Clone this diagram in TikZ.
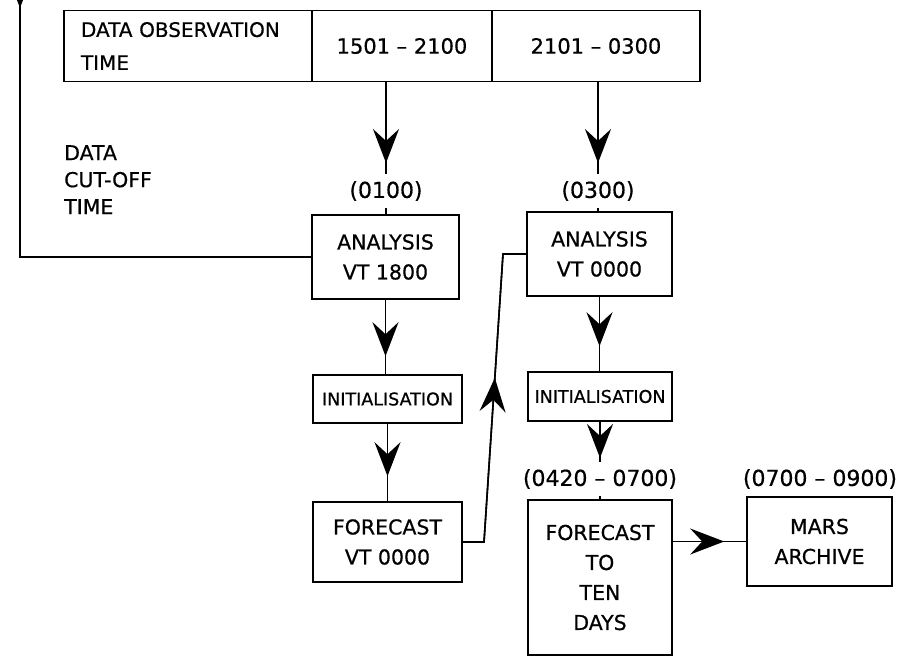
\documentclass[tikz,border=0pt]{standalone}
\usepackage{fontspec}
\setmainfont[FakeBold=0.6]{DejaVu Sans}
\usetikzlibrary{arrows.meta,decorations.markings}
\begin{document}
\begin{tikzpicture}[x=1pt,y=-1pt,
  every node/.style={font=\fontsize{20.5}{30}\selectfont},
  box/.style={draw, line width=1.6pt, align=center, inner sep=0pt},
  lab/.style={inner xsep=0pt, inner ysep=7pt, font=\fontsize{22}{30}\selectfont},
  conn/.style={line width=1.6pt},
  bigtip/.style={-{Stealth[length=34pt,width=26pt,inset=12pt]}},
  midarrow/.style={postaction={decorate}, decoration={markings, mark=at position #1 with {\arrow{Stealth[length=34pt,width=26pt,inset=12pt]}}}}
]
\useasboundingbox (0,0) rectangle (904,658);
\clip (0,0) rectangle (904,658);

% table
\node[box, minimum width=248pt, minimum height=71pt, text width=214pt, align=left, font=\fontsize{20}{33}\selectfont] (obs) at (188,46) {DATA OBSERVATION\\TIME};
\node[box, minimum width=180pt, minimum height=71pt, font=\fontsize{21}{30}\selectfont] (p1) at (402,46) {1501 -- 2100};
\node[box, minimum width=208pt, minimum height=71pt, font=\fontsize{21}{30}\selectfont] (p2) at (596,46) {2101 -- 0300};

% cut-off text
\node[align=left, inner sep=0pt, anchor=north west, font=\fontsize{20.5}{27}\selectfont] (cut) at (64,145) {DATA\\CUT-OFF\\TIME};

% labels
\node[lab] (l1) at (386,191) {(0100)};
\node[lab] (l2) at (598,191) {(0300)};
\node[lab] (l3) at (600,479) {(0420 -- 0700)};
\node[lab] (l4) at (820,479) {(0700 -- 0900)};

% boxes
\node[box, minimum width=147pt, minimum height=84pt] (a1) at (385.5,257) {ANALYSIS\\VT 1800};
\node[box, minimum width=145pt, minimum height=84pt] (a2) at (599.5,254) {ANALYSIS\\VT 0000};
\node[box, minimum width=149pt, minimum height=48pt, font=\fontsize{17.5}{30}\selectfont] (i1) at (387.5,399) {INITIALISATION};
\node[box, minimum width=144pt, minimum height=49pt, font=\fontsize{17.5}{30}\selectfont] (i2) at (600,396.5) {INITIALISATION};
\node[box, minimum width=149pt, minimum height=80pt] (f1) at (387.5,542) {FORECAST\\VT 0000};
\node[box, minimum width=144pt, minimum height=155pt] (f2) at (600,577.5) {FORECAST\\TO\\TEN\\DAYS};
\node[box, minimum width=145pt, minimum height=89pt] (m) at (819.5,541.5) {MARS\\ARCHIVE};

% connectors
\draw[conn, midarrow=-11pt] (l1.north |- p1.south) -- (l1.north);
\draw[conn] (l1.south) -- (l1.south |- a1.north);
\draw[conn, midarrow=-11pt] (l2.north |- p2.south) -- (l2.north);
\draw[conn] (l2.south) -- (l2.south |- a2.north);
\draw[conn, midarrow=-18pt] (a1.south) -- (a1.south |- i1.north);
\draw[conn, midarrow=-25pt] (i1.south) -- (i1.south |- f1.north);
\draw[conn, midarrow=-25pt] (a2.south) -- (a2.south |- i2.north);
\draw[conn, midarrow=-4pt] (i2.south) -- (i2.south |- l3.north);
\draw[conn] (l3.south) -- (l3.south |- f2.north);
\draw[conn, midarrow=-22pt] (f2.east |- m.west) -- (m.west);

\coordinate (b1) at (484,542);
\coordinate (b2) at (503,254);
\draw[conn] (f1.east) -- (b1) -- (b2) -- (a2.west);
\draw[conn, midarrow=0.57] (b1) -- (b2);

\coordinate (t0) at (20,-20);
\coordinate (t1) at (20,8);
\draw[conn] (a1.west) -| (t0);
\draw[conn, bigtip] (t0) -- (t1);
\end{tikzpicture}
\end{document}
